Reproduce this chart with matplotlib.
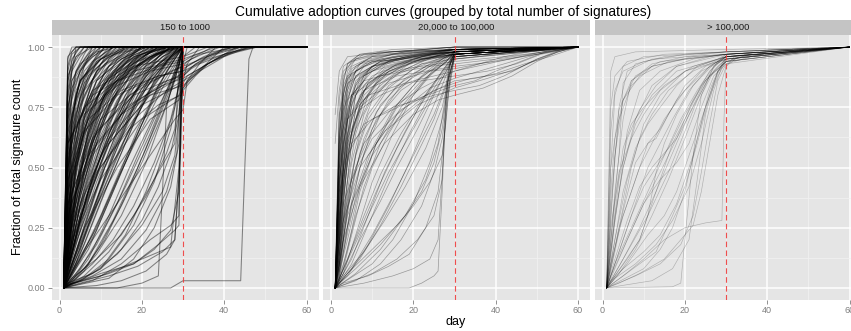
import matplotlib
matplotlib.use("Agg")
import matplotlib.pyplot as plt
import numpy as np

plt.rcParams['font.family'] = ['Liberation Sans', 'DejaVu Sans']

TITLE = "Cumulative adoption curves (grouped by total number of signatures)"
GROUPS = ["150 to 1000", "20,000 to 100,000", "> 100,000"]
X_TICKS = [0, 20, 40, 60]
Y_TICKS = [0.0, 0.25, 0.5, 0.75, 1.0]
Y_TICK_LABELS = ["0.00", "0.25", "0.50", "0.75", "1.00"]
CUTOFF_DAY = 30
LAST_DAY = 60

# each curve: flat list of (day, fraction) pairs; every curve finishes at (LAST_DAY, 1)
small = [
    [1,0, 2,.9, 3,.97, 5,1],
    [1,0, 2,.82, 3,.92, 6,1],
    [1,0, 2,.75, 4,.9, 7,.97, 9,1],
    [1,0, 2,.68, 3,.83, 6,.93, 11,1],
    [1,0, 2,.6, 4,.82, 8,.94, 13,1],
    [1,0, 2,.55, 3,.72, 6,.88, 10,.95, 15,1],
    [1,0, 2,.5, 4,.74, 7,.88, 12,.96, 18,1],
    [1,0, 2,.42, 3,.6, 5,.76, 9,.9, 14,.97, 19,1],
    [1,0, 2,.38, 5,.7, 9,.86, 15,.95, 21,1],
    [1,0, 2,.33, 4,.58, 7,.77, 12,.9, 17,.96, 23,1],
    [1,0, 2,.28, 4,.5, 8,.74, 13,.88, 20,.97, 25,1],
    [1,0, 3,.4, 6,.66, 10,.83, 16,.94, 24,1],
    [1,0, 3,.35, 7,.65, 12,.84, 18,.95, 26,1],
    [1,0, 2,.22, 5,.48, 9,.7, 14,.85, 21,.95, 28,1],
    [1,0, 3,.25, 6,.47, 11,.72, 17,.88, 24,.97, 30,1],
    [1,0, 2,.18, 4,.36, 8,.6, 13,.79, 19,.92, 27,1],
    [1,0, 3,.2, 7,.45, 12,.68, 18,.86, 25,.96, 30,1],
    [1,0, 4,.18, 9,.44, 14,.65, 20,.83, 26,.95, 30,1],
    [1,0, 2,.12, 5,.3, 10,.55, 16,.76, 22,.9, 29,1],
    [1,0, 3,.1, 8,.3, 14,.55, 20,.77, 26,.93, 30,1],
    [1,0, 5,.12, 10,.3, 15,.5, 20,.68, 25,.85, 29,.96, 30,1],
    [1,0, 4,.06, 9,.18, 14,.35, 19,.55, 24,.74, 28,.9, 30,1],
    [1,0, 6,.05, 12,.15, 18,.3, 24,.48, 28,.6, 29,.92, 30,1],
    [1,0, 8,.03, 15,.1, 22,.2, 27,.26, 29,.3, 29.5,.88, 30,1],
    [1,0, 3,.02, 10,.05, 20,.12, 27,.17, 29,.5, 30,.93, 31,1],
    [1,0, 2,.95, 3,1],
    [1,0, 2,.88, 4,.96, 8,1],
    [1,0, 2,.72, 3,.86, 5,.93, 9,.98, 14,1],
    [1,0, 2,.64, 5,.86, 10,.95, 16,1],
    [1,0, 2,.48, 3,.66, 6,.85, 11,.95, 17,1],
    [1,0, 2,.4, 4,.66, 8,.85, 13,.94, 20,1],
    [1,0, 3,.55, 5,.75, 9,.9, 16,.98, 22,1],
    [1,0, 3,.48, 7,.78, 12,.92, 20,1],
    [1,0, 2,.25, 3,.42, 6,.68, 11,.86, 18,.96, 26,1],
    [1,0, 2,.15, 4,.4, 7,.63, 11,.8, 17,.92, 24,1],
    [1,0, 3,.3, 5,.52, 8,.7, 12,.83, 19,.94, 28,1],
    [1,0, 4,.3, 8,.58, 12,.76, 17,.9, 23,.97, 29,1],
    [1,0, 5,.35, 10,.62, 15,.8, 21,.92, 27,1],
    [1,0, 2,.08, 6,.35, 11,.6, 16,.8, 22,.93, 27,1],
    [1,0, 3,.15, 6,.32, 10,.52, 15,.72, 21,.88, 28,.97, 30,1],
    [1,0, 4,.1, 9,.25, 14,.45, 19,.66, 24,.84, 28,.95, 30,1],
    [1,0, 2,.05, 5,.16, 10,.38, 16,.62, 22,.82, 27,.94, 30,1],
    [1,0, 7,.1, 13,.28, 19,.5, 24,.7, 28,.87, 30,1],
    [1,0, 10,.08, 16,.22, 21,.4, 25,.58, 28,.75, 29,.85, 30,1],
    [1,0, 2,.02, 8,.06, 14,.14, 20,.26, 25,.4, 28,.55, 29.5,.8, 30,.96, 33,1],
    [1,0, 4,.02, 10,.06, 18,.1, 24,.18, 28,.24, 29,.26, 29.5,.7, 30,.86, 31,.93, 34,1],
    [1,0, 27,0, 30,.03, 44,.03, 45,.5, 46,.95, 47,1],
    [1,0, 14,0, 20,.02, 24,.05, 25,.4, 26,.75, 29,.95, 30,1],
    [1,0, 3,.3, 8,.55, 15,.72, 22,.8, 30,.84, 34,.9, 40,.96, 46,1],
    [1,0, 2,.4, 6,.65, 14,.8, 24,.88, 30,.9, 36,.95, 42,.98, 48,1],
    [1,0, 4,.4, 10,.7, 20,.84, 30,.92, 36,.96, 42,1],
    [1,0, 2,.6, 8,.8, 18,.9, 30,.95, 38,1],
    [1,0, 5,.3, 12,.6, 22,.8, 30,.88, 33,.93, 38,.97, 44,1],
    [1,0, 3,.2, 10,.45, 20,.7, 29,.8, 31,.86, 35,.92, 40,1],
    [1,0, 6,.15, 14,.35, 22,.55, 28,.7, 30,.74, 31,.86, 34,.93, 38,1],
    [1,0, 2,.78, 3,.9, 4,.96, 6,1],
    [1,0, 2,.66, 3,.8, 5,.9, 8,.96, 12,1],
    [1,0, 2,.58, 3,.74, 5,.86, 9,.94, 16,1],
    [1,0, 2,.52, 4,.76, 6,.87, 10,.95, 14,1],
    [1,0, 2,.46, 3,.62, 5,.79, 8,.9, 13,.97, 17,1],
    [1,0, 2,.36, 3,.52, 5,.7, 9,.86, 15,.95, 21,1],
    [1,0, 2,.3, 3,.45, 6,.7, 10,.85, 16,.95, 22,1],
    [1,0, 2,.26, 4,.52, 7,.72, 12,.88, 18,.96, 25,1],
    [1,0, 2,.2, 4,.42, 7,.64, 11,.8, 17,.93, 23,1],
    [1,0, 3,.28, 6,.56, 10,.76, 15,.89, 21,.97, 26,1],
    [1,0, 2,.14, 5,.38, 9,.62, 14,.81, 20,.93, 26,1],
    [1,0, 3,.16, 7,.4, 12,.64, 17,.81, 23,.93, 28,1],
    [1,0, 4,.22, 8,.46, 13,.68, 19,.86, 25,.96, 29,1],
    [1,0, 2,.1, 6,.28, 11,.5, 17,.72, 23,.88, 28,.97, 30,1],
    [1,0, 5,.2, 11,.45, 17,.66, 23,.84, 28,.96, 30,1],
    [1,0, 3,.06, 8,.22, 14,.45, 20,.66, 25,.83, 29,.95, 30,1],
    [1,0, 2,.92, 3,.98, 4,1],
    [1,0, 2,.85, 3,.95, 5,1],
    [1,0, 2,.7, 4,.88, 7,.96, 10,1],
    [1,0, 3,.7, 5,.86, 9,.95, 13,1],
    [1,0, 3,.62, 6,.82, 11,.93, 19,1],
    [1,0, 2,.34, 5,.62, 10,.82, 16,.93, 23,1],
    [1,0, 4,.5, 9,.76, 15,.9, 22,.98, 27,1],
    [1,0, 2,.44, 6,.72, 12,.87, 19,.95, 25,1],
    [1,0, 3,.45, 6,.64, 11,.8, 18,.92, 28,1],
    [1,0, 2,.04, 4,.14, 8,.32, 13,.56, 19,.78, 25,.92, 29,1],
    [1,0, 6,.08, 11,.2, 16,.38, 21,.58, 26,.8, 29,.93, 30,1],
    [1,0, 3,.04, 9,.12, 15,.22, 21,.38, 26,.56, 28,.66, 29,.8, 30,1],
    [1,0, 12,.04, 18,.12, 23,.25, 27,.42, 29,.6, 30,1],
    [1,0, 2,.5, 3,.67, 4,.78, 7,.91, 11,1],
    [1,0, 2,.24, 3,.38, 5,.58, 8,.76, 13,.9, 20,1],
    [1,0, 2,.18, 3,.3, 6,.55, 10,.75, 15,.88, 22,.96, 29,1],
    [1,0, 4,.14, 7,.3, 11,.5, 16,.7, 22,.87, 27,.96, 30,1],
    [1,0, 2,.07, 4,.2, 8,.42, 13,.64, 18,.8, 24,.93, 30,1],
    [1,0, 3,.03, 7,.12, 12,.3, 17,.5, 22,.68, 26,.82, 29,.92, 30,1],
    [1,0, 2,.7, 3,.9, 4,1],
    [1,0, 2,.58, 3,.8, 4,.9, 6,.97, 7,1],
    [1,0, 2,.5, 3,.7, 5,.88, 8,1],
    [1,0, 2,.44, 3,.68, 4,.8, 6,.92, 9,1],
    [1,0, 2,.38, 3,.6, 5,.8, 7,.9, 10,1],
    [1,0, 2,.32, 4,.64, 6,.82, 9,.94, 12,1],
    [1,0, 2,.27, 3,.46, 5,.68, 8,.86, 11,.96, 13,1],
    [1,0, 2,.24, 4,.52, 6,.7, 9,.86, 12,.95, 15,1],
    [1,0, 2,.2, 3,.36, 5,.58, 8,.78, 11,.9, 16,1],
    [1,0, 2,.16, 4,.4, 7,.66, 10,.83, 14,.95, 17,1],
    [1,0, 2,.13, 3,.26, 6,.55, 9,.74, 13,.89, 18,1],
    [1,0, 2,.11, 4,.32, 7,.56, 11,.78, 15,.91, 19,1],
    [1,0, 3,.22, 6,.5, 10,.75, 14,.9, 18,.97, 20,1],
    [1,0, 2,.09, 5,.34, 9,.6, 13,.8, 17,.93, 21,1],
    [1,0, 3,.18, 6,.42, 10,.66, 15,.86, 19,.96, 22,1],
    [1,0, 2,.07, 5,.28, 9,.52, 14,.76, 19,.92, 23,1],
    [1,0, 4,.2, 8,.48, 12,.7, 17,.88, 21,.97, 24,1],
    [1,0, 3,.12, 7,.36, 12,.62, 17,.82, 22,.95, 25,1],
    [1,0, 2,.05, 6,.26, 11,.52, 16,.74, 21,.9, 26,1],
    [1,0, 5,.2, 10,.46, 15,.68, 20,.86, 24,.96, 27,1],
    [1,0, 3,.08, 8,.3, 13,.54, 18,.75, 23,.9, 28,1],
    [1,0, 4,.12, 9,.36, 14,.6, 19,.8, 24,.93, 28,1],
    [1,0, 2,.03, 6,.18, 12,.44, 18,.68, 23,.86, 27,.96, 29,1],
    [1,0, 5,.14, 10,.36, 16,.6, 21,.8, 26,.94, 29,1],
    [1,0, 3,.05, 9,.24, 15,.48, 21,.72, 26,.9, 30,1],
    [1,0, 7,.16, 13,.4, 19,.64, 24,.84, 28,.95, 30,1],
    [1,0, 2,.02, 5,.08, 10,.22, 16,.42, 22,.64, 27,.85, 30,1],
    [1,0, 4,.04, 9,.14, 15,.3, 21,.52, 26,.76, 29,.92, 30,1],
    [1,0, 6,.04, 12,.12, 18,.26, 23,.44, 27,.66, 29,.84, 30,1],
    [1,0, 2,.01, 8,.05, 15,.12, 21,.24, 26,.4, 28.5,.56, 29.5,.85, 30,1],
    [1,0, 5,.02, 12,.05, 19,.09, 25,.15, 28,.2, 29.5,.6, 30,1],
    [1,0, 2,.96, 4,1],
    [1,0, 2,.86, 3,.94, 4,.98, 5,1],
    [1,0, 2,.8, 3,.9, 5,.96, 7,1],
    [1,0, 2,.74, 3,.86, 6,.95, 8,1],
    [1,0, 2,.64, 3,.78, 5,.9, 7,.95, 10,1],
    [1,0, 2,.56, 4,.8, 6,.9, 9,.96, 11,1],
    [1,0, 2,.48, 4,.72, 7,.88, 10,.95, 13,1],
    [1,0, 2,.41, 3,.57, 6,.8, 10,.93, 14,1],
    [1,0, 3,.5, 5,.7, 8,.86, 12,.95, 16,1],
    [1,0, 2,.31, 4,.55, 8,.8, 12,.92, 18,1],
    [1,0, 3,.38, 6,.63, 10,.82, 15,.94, 20,1],
    [1,0, 2,.23, 5,.52, 9,.75, 14,.9, 19,.97, 22,1],
    [1,0, 3,.32, 7,.6, 12,.8, 17,.92, 24,1],
    [1,0, 4,.36, 8,.62, 13,.82, 19,.94, 26,1],
    [1,0, 2,.17, 5,.44, 10,.7, 16,.87, 22,.96, 27,1],
    [1,0, 3,.26, 8,.56, 14,.78, 20,.91, 25,.97, 29,1],
    [1,0, 5,.28, 10,.54, 16,.76, 22,.9, 27,.97, 30,1],
    [1,0, 2,.1, 3,.2, 5,.4, 8,.6, 12,.78, 17,.9, 23,.97, 28,1],
    [1,0, 2,.06, 3,.14, 6,.38, 10,.6, 15,.8, 20,.92, 26,1],
    [1,0, 2,.03, 4,.1, 7,.26, 11,.46, 16,.66, 21,.83, 26,.94, 30,1],
    [1,0, 3,.02, 6,.07, 10,.18, 15,.34, 20,.52, 25,.72, 28,.86, 30,1],
    [1,0, 2,.01, 4,.04, 8,.1, 13,.2, 18,.34, 23,.52, 27,.7, 29,.84, 30,1],
    [1,0, 5,.03, 10,.08, 15,.16, 20,.28, 24,.42, 27,.56, 29,.72, 30,1],
    [1,0, 2,.015, 6,.03, 12,.06, 18,.1, 23,.16, 27,.24, 29,.4, 30,1],
    [1,0, 9,.01, 15,.03, 21,.07, 26,.14, 28,.2, 29,.45, 30,1],
    [1,0, 2,.5, 6,.72, 14,.84, 22,.9, 30,.93, 32,.95, 36,.98, 39,1],
    [1,0, 3,.36, 9,.6, 17,.76, 25,.84, 30,.87, 33,.9, 37,.94, 41,.97, 45,1],
    [1,0, 4,.25, 10,.5, 18,.7, 26,.82, 30,.86, 32,.88, 35,.92, 43,1],
    [1,0, 2,.3, 7,.55, 16,.74, 25,.85, 30,.89, 34,.94, 37,.97, 41,1],
    [1,0, 6,.25, 14,.5, 22,.7, 29,.78, 30,.82, 33,.88, 36,.93, 40,.97, 47,1],
    [1,0, 2,.45, 7,.7, 15,.82, 24,.88, 30,.9, 31,.92, 33,.94, 35,.96, 38,.98, 42,1],
    [1,0, 3,.4, 9,.65, 18,.8, 26,.86, 30,.88, 32,.91, 34,.93, 37,.95, 40,.97, 44,1],
    [1,0, 2,.55, 6,.75, 14,.86, 24,.92, 30,.94, 32,.96, 35,.98, 37,1],
    [1,0, 4,.3, 11,.58, 20,.76, 28,.83, 30,.85, 31,.88, 34,.91, 38,.95, 42,.98, 46,1],
    [1,0, 2,.6, 8,.82, 18,.92, 30,.96, 33,.98, 36,1],
    [1,0, 5,.35, 12,.62, 21,.8, 29,.88, 30,.91, 34,.95, 39,.98, 44,1],
    [1,0, 3,.25, 9,.48, 17,.66, 24,.76, 29.5,.8, 30,.83, 32,.87, 36,.93, 41,.97, 48,1],
    [1,0, 2,.35, 8,.62, 17,.8, 27,.9, 30,.92, 31,.94, 34,.97, 43,1],
]

medium = [
    [1,0, 2,.45, 3,.75, 4,.86, 6,.92, 10,.96, 20,.985, 30,1],
    [1,0, 2,.6, 3,.82, 5,.91, 9,.95, 18,.98, 30,.99],
    [1,0, 2,.35, 3,.62, 4,.78, 6,.88, 12,.94, 22,.97, 30,.98],
    [1,0, 2,.3, 4,.7, 6,.85, 10,.92, 20,.96, 30,.98],
    [1,0, 2,.5, 3,.78, 5,.9, 8,.94, 15,.97, 30,.99],
    [1,0, 2,.2, 3,.48, 5,.76, 7,.87, 12,.93, 20,.96, 30,.985],
    [1,0, 2,.15, 4,.55, 6,.74, 9,.85, 15,.92, 24,.96, 30,.98],
    [1,0, 2,.1, 3,.3, 5,.6, 8,.78, 12,.88, 20,.95, 30,.99],
    [1,0, 2,.25, 3,.5, 4,.64, 7,.8, 13,.9, 22,.96, 30,1],
    [1,0, 3,.4, 5,.65, 8,.8, 14,.9, 22,.95, 30,.97],
    [1,0, 2,.4, 3,.7, 4,.84, 7,.93, 15,.97, 30,.99],
    [1,0, 2,.55, 3,.74, 6,.88, 12,.94, 30,.98],
    [1,0, 2,.7, 3,.88, 5,.94, 12,.97, 30,.99],
    [1,0, 2,.08, 4,.35, 6,.55, 9,.7, 14,.83, 20,.91, 26,.95, 30,.98],
    [1,0, 2,.05, 3,.2, 5,.42, 8,.62, 12,.76, 18,.87, 25,.94, 30,.97],
    [1,0, 3,.15, 6,.38, 10,.58, 15,.74, 21,.86, 27,.94, 30,.98],
    [1,0, 3,.1, 6,.3, 10,.5, 14,.64, 19,.78, 24,.88, 28,.94, 30,.98],
    [1,0, 4,.12, 8,.3, 12,.47, 17,.64, 22,.78, 27,.9, 30,.97],
    [1,0, 2,.04, 6,.2, 11,.4, 16,.58, 21,.74, 26,.87, 29,.94, 30,.97],
    [1,0, 5,.08, 10,.22, 15,.38, 20,.55, 25,.72, 28,.85, 30,.96],
    [1,0, 3,.05, 8,.15, 13,.28, 18,.42, 23,.58, 27,.75, 29,.9, 30,.97],
    [1,0, 6,.06, 12,.16, 18,.3, 23,.45, 26,.6, 28,.82, 29,.93, 30,.98],
    [1,0, 4,.02, 10,.06, 16,.12, 21,.2, 25,.3, 27,.45, 28,.85, 29,.95, 30,.99],
    [1,0, 8,.02, 15,.05, 20,.08, 24,.12, 26,.2, 27.5,.6, 28.5,.9, 30,.98],
    [1,0, 19,0, 22,.02, 25,.05, 26,.07, 27,.4, 28,.8, 29,.94, 30,.98],
    [1,0, 3,.02, 9,.05, 14,.09, 19,.14, 23,.25, 26,.4, 28,.7, 29,.9, 30,.97],
    [1,0, 2,.3, 4,.55, 8,.68, 15,.75, 25,.8, 30,.82, 36,.84, 42,.88, 50,.95, 56,.99],
    [1,0, 3,.2, 7,.42, 13,.6, 20,.72, 26,.78, 30,.8, 37,.83, 44,.88, 50,.94, 55,.98],
    [1,0, 2,.4, 5,.6, 10,.7, 20,.78, 30,.84, 35,.86, 40,.9, 46,.94, 52,.98],
    [1,0, 2,.5, 4,.7, 9,.8, 18,.85, 30,.88, 38,.9, 45,.93, 51,.97],
    [1,0, 4,.3, 9,.55, 16,.72, 24,.83, 30,.87, 36,.9, 44,.94, 50,.97, 56,.99],
    [1,0, 2,.6, 5,.8, 12,.88, 24,.92, 30,.93, 40,.95, 48,.97, 55,.99],
    [1,0, 3,.5, 7,.75, 14,.85, 24,.9, 30,.91, 36,.93, 42,.96, 48,.98],
    [1,0, 2,.2, 5,.45, 10,.62, 17,.74, 25,.82, 30,.85, 34,.87, 38,.88, 44,.9, 50,.95, 55,.98],
    [1,0, 2,.65, 4,.85, 10,.92, 20,.95, 30,.96, 45,.98, 55,.99],
    [1,0, 3,.35, 8,.6, 15,.75, 22,.83, 30,.9, 36,.93, 42,.95, 50,.97],
    [1,0, 5,.35, 10,.55, 16,.7, 23,.8, 30,.86, 35,.87, 40,.89, 47,.93, 53,.96],
    [1,0, 2,.72, 4,.88, 10,.94, 30,.97, 50,.99],
    [1,0, 2,.28, 4,.6, 8,.78, 14,.87, 22,.93, 30,.95, 40,.97, 50,.985],
    [1,.72, 2,.9, 4,.96, 15,.98, 30,.99],
    [1,.6, 2,.82, 3,.92, 7,.97, 30,1],
    [1,0, 2,.55, 3,.85, 4,.93, 7,.97, 15,.99, 30,1],
    [1,0, 2,.38, 3,.68, 4,.82, 5,.88, 9,.94, 18,.97, 30,.99],
    [1,0, 2,.28, 3,.56, 4,.74, 6,.86, 11,.93, 21,.97, 30,.99],
    [1,0, 2,.18, 3,.4, 4,.6, 6,.8, 9,.89, 16,.95, 30,.99],
    [1,0, 2,.12, 3,.3, 5,.6, 7,.74, 11,.85, 18,.93, 30,.98],
    [1,0, 2,.22, 3,.46, 5,.7, 9,.85, 16,.93, 30,.97],
    [1,0, 2,.62, 3,.8, 4,.87, 8,.93, 16,.96, 30,.98],
    [1,0, 2,.78, 3,.9, 6,.95, 14,.98, 30,1],
    [1,0, 2,.42, 3,.64, 5,.8, 10,.9, 20,.95, 30,.97],
    [1,0, 2,.32, 3,.56, 5,.72, 8,.82, 13,.89, 21,.94, 30,.97],
    [1,0, 2,.06, 4,.25, 7,.5, 10,.66, 14,.78, 20,.88, 27,.95, 30,.98],
    [1,0, 2,.1, 4,.32, 7,.56, 11,.73, 16,.84, 23,.92, 30,.97],
    [1,0, 3,.08, 5,.22, 8,.42, 12,.6, 17,.75, 23,.87, 28,.94, 30,.98],
    [1,0, 3,.25, 6,.5, 11,.7, 17,.82, 24,.9, 30,.95],
    [1,0, 4,.2, 7,.42, 11,.6, 16,.75, 22,.86, 28,.94, 30,.97],
    [1,0, 2,.03, 5,.12, 9,.3, 13,.48, 18,.65, 23,.8, 27,.9, 30,.97],
    [1,0, 5,.15, 9,.3, 14,.48, 19,.63, 24,.78, 28,.9, 30,.96],
    [1,0, 7,.12, 12,.26, 17,.42, 21,.56, 25,.7, 28,.84, 30,.95],
    [1,0, 3,.06, 7,.2, 12,.36, 16,.5, 21,.66, 25,.8, 28,.9, 30,.97],
    [1,0, 10,.1, 15,.2, 20,.35, 24,.52, 27,.7, 29,.88, 30,.97],
    [1,0, 2,.02, 6,.08, 12,.18, 18,.3, 22,.4, 25,.52, 27,.66, 28.5,.86, 30,.97],
    [1,0, 4,.06, 10,.16, 16,.26, 20,.34, 24,.44, 27,.55, 28.5,.8, 30,.96],
    [1,0, 2,.14, 3,.36, 4,.52, 6,.66, 10,.8, 17,.9, 25,.96, 30,.99],
    [1,0, 2,.2, 3,.52, 4,.7, 5,.79, 8,.88, 14,.94, 30,.99],
    [1,0, 2,.48, 3,.72, 4,.82, 6,.9, 12,.95, 30,.99],
    [1,0, 2,.24, 3,.44, 4,.58, 7,.76, 12,.87, 20,.94, 30,.98],
    [1,0, 2,.5, 3,.8, 4,.9, 6,.95, 12,.98, 30,.99],
    [1,0, 2,.4, 3,.66, 4,.8, 6,.9, 10,.94, 20,.97, 30,.98],
    [1,0, 2,.3, 3,.6, 4,.76, 5,.85, 8,.92, 15,.96, 30,.99],
    [1,0, 2,.22, 3,.5, 4,.68, 5,.8, 7,.88, 12,.94, 22,.97, 30,.99],
    [1,0, 2,.16, 3,.42, 4,.62, 6,.8, 9,.9, 15,.95, 30,.98],
    [1,0, 2,.12, 3,.34, 4,.54, 6,.74, 8,.84, 13,.92, 22,.96, 30,.98],
    [1,0, 2,.09, 3,.26, 4,.44, 6,.64, 9,.8, 14,.9, 22,.95, 30,.98],
    [1,0, 2,.07, 3,.2, 5,.46, 7,.64, 10,.78, 15,.88, 23,.95, 30,.98],
    [1,0, 2,.6, 3,.86, 4,.93, 8,.97, 30,1],
    [1,0, 2,.66, 3,.84, 5,.92, 10,.96, 30,.99],
    [1,0, 2,.34, 3,.58, 4,.72, 6,.84, 10,.92, 18,.96, 30,.98],
    [1,0, 2,.26, 3,.52, 5,.76, 8,.88, 14,.94, 30,.98],
    [1,0, 2,.19, 3,.38, 5,.64, 8,.82, 13,.91, 22,.96, 30,.99],
    [1,0, 2,.14, 3,.28, 5,.52, 8,.72, 12,.85, 19,.93, 30,.97],
    [1,0, 2,.04, 3,.14, 5,.36, 8,.56, 12,.72, 17,.84, 24,.92, 30,.96],
    [1,0, 2,.03, 4,.16, 7,.4, 11,.6, 16,.76, 22,.88, 27,.95, 30,.98],
    [1,0, 3,.06, 6,.22, 10,.44, 15,.64, 20,.8, 25,.91, 30,.97],
    [1,0, 2,.02, 5,.1, 9,.26, 14,.46, 19,.64, 24,.8, 28,.91, 30,.96],
    [1,0, 4,.05, 9,.18, 14,.34, 19,.52, 23,.68, 27,.84, 29,.93, 30,.97],
    [1,0, 6,.03, 12,.1, 17,.2, 22,.34, 25,.48, 27,.62, 28.5,.82, 30,.96],
    [1,0, 2,.36, 4,.62, 7,.74, 12,.8, 20,.86, 30,.9, 38,.93, 46,.96, 54,.99],
    [1,0, 2,.45, 4,.7, 8,.82, 16,.88, 30,.92, 40,.94, 50,.97, 56,.99],
    [1,0, 3,.28, 7,.5, 13,.65, 21,.76, 30,.83, 38,.87, 45,.91, 52,.96, 57,.99],
    [1,0, 2,.55, 4,.78, 8,.86, 18,.91, 30,.94, 42,.96, 52,.98],
    [1,0, 2,.1, 3,.24, 4,.38, 6,.56, 9,.72, 14,.84, 22,.93, 30,.97],
    [1,0, 2,.44, 3,.6, 4,.7, 6,.8, 10,.88, 18,.94, 30,.97],
]

large = [
    [1,0, 2,.9, 3,.96, 8,.98, 30,.99],
    [1,0, 2,.5, 3,.8, 5,.92, 10,.96, 30,.98],
    [1,0, 2,.3, 4,.75, 6,.9, 12,.95, 30,.97],
    [1,0, 2,.2, 4,.55, 5,.85, 8,.93, 15,.96, 30,.98],
    [1,0, 3,.4, 5,.7, 7,.86, 12,.93, 20,.96, 30,.98],
    [1,0, 2,.15, 4,.4, 6,.65, 9,.82, 14,.9, 22,.95, 30,.97],
    [1,0, 3,.2, 6,.45, 9,.62, 12,.72, 16,.82, 22,.9, 30,.96],
    [1,0, 2,.1, 5,.3, 9,.5, 12,.6, 15,.7, 20,.82, 26,.92, 30,.96],
    [1,0, 4,.25, 8,.45, 11,.6, 13,.62, 16,.72, 20,.84, 25,.92, 30,.95],
    [1,0, 3,.1, 7,.25, 11,.4, 15,.55, 19,.7, 23,.82, 27,.92, 30,.96],
    [1,0, 5,.12, 9,.25, 13,.4, 17,.56, 21,.72, 25,.86, 28,.94, 30,.97],
    [1,0, 2,.05, 6,.2, 10,.35, 14,.48, 18,.62, 22,.78, 26,.9, 30,.96],
    [1,0, 4,.06, 8,.16, 12,.3, 16,.45, 20,.62, 24,.8, 27,.9, 30,.95],
    [1,0, 6,.1, 11,.22, 15,.3, 18,.4, 21,.55, 24,.7, 27,.85, 29,.93, 30,.96],
    [1,0, 3,.04, 8,.1, 13,.18, 17,.28, 21,.42, 24,.6, 27,.82, 29,.92, 30,.95],
    [1,0, 17,.005, 19,.02, 20,.2, 22,.55, 24,.8, 27,.92, 30,.96],
    [1,0, 12,.03, 17,.08, 21,.2, 23,.45, 25,.72, 28,.9, 30,.95],
    [1,0, 5,.05, 10,.12, 15,.2, 20,.25, 25,.27, 29,.28, 29.5,.7, 30,.92, 32,.96, 40,.99],
    [1,0, 2,.65, 3,.82, 5,.9, 10,.94, 20,.97, 30,.98],
    [1,0, 2,.4, 3,.62, 5,.78, 9,.88, 16,.94, 30,.97],
    [1,0, 3,.3, 5,.5, 8,.68, 12,.8, 18,.9, 30,.96],
    [1,0, 2,.08, 4,.25, 7,.5, 10,.68, 14,.8, 20,.9, 28,.95, 30,.97],
    [1,0, 3,.15, 5,.32, 8,.52, 11,.6, 14,.66, 18,.78, 24,.9, 30,.95],
    [1,0, 4,.15, 7,.3, 10,.42, 13,.5, 16,.58, 20,.72, 25,.86, 30,.94, 36,.97, 45,.99],
    [1,0, 6,.2, 10,.35, 14,.45, 18,.52, 21,.6, 24,.75, 27,.88, 30,.93, 38,.97],
    [1,0, 2,.03, 5,.08, 10,.15, 14,.22, 18,.35, 22,.55, 25,.75, 28,.88, 30,.94],
    [1,0, 8,.05, 14,.1, 19,.18, 22,.3, 24,.48, 26,.68, 28,.86, 30,.93],
    [1,0, 3,.12, 6,.28, 9,.42, 12,.5, 15,.56, 18,.62, 22,.75, 26,.88, 30,.94],
    [1,0, 2,.75, 3,.88, 6,.94, 15,.97, 30,.98],
    [1,0, 2,.35, 3,.55, 4,.7, 7,.84, 12,.92, 22,.96, 30,.97],
    [1,0, 4,.45, 6,.62, 9,.74, 13,.84, 18,.92, 26,.96, 30,.97],
    [1,0, 5,.4, 8,.58, 11,.68, 14,.75, 18,.84, 23,.92, 30,.96],
    [1,0, 7,.3, 11,.5, 14,.6, 17,.7, 21,.82, 26,.92, 30,.96],
    [1,0, 3,.05, 6,.12, 9,.2, 11,.3, 13,.48, 15,.6, 18,.72, 22,.84, 27,.93, 30,.96],
    [1,0, 10,.08, 14,.16, 17,.25, 20,.4, 23,.62, 26,.82, 28,.9, 30,.94],
    [1,0, 2,.12, 3,.28, 5,.5, 8,.7, 12,.84, 18,.92, 30,.97],
    [1,0, 2,.25, 4,.48, 7,.62, 10,.72, 14,.82, 20,.9, 30,.95],
    [1,0, 6,.15, 11,.3, 16,.48, 20,.65, 23,.78, 26,.88, 30,.94, 34,.96],
    [1,0, 4,.02, 9,.06, 15,.12, 19,.2, 22,.26, 24,.4, 26,.6, 28,.8, 30,.92, 33,.96],
    [1,0, 2,.5, 4,.74, 7,.86, 12,.92, 20,.95, 30,.97],
    [1,0, 3,.55, 5,.78, 8,.88, 14,.94, 30,.97],
    [1,0, 2,.18, 3,.35, 5,.58, 7,.68, 10,.75, 15,.84, 22,.92, 30,.96],
    [1,0, 9,.2, 12,.35, 15,.5, 17,.6, 20,.7, 24,.84, 28,.92, 30,.95],
    [1,0, 13,.15, 17,.3, 20,.42, 23,.6, 26,.8, 28,.9, 30,.94],
]

# line width / opacity per facet: the small-petition facet is packed much tighter
curve_lw = [0.75, 0.5, 0.45]
curve_alpha = [0.45, 0.34, 0.24]

W, H = 851, 331
fig = plt.figure(figsize=(W / 100, H / 100), dpi=100)


def box(x0, y0, x1, y1):
    # pixel box (top-left origin) -> figure fraction
    return [x0 / W, 1 - y1 / H, (x1 - x0) / W, (y1 - y0) / H]


panel_left = [51.5, 323.0, 594.5]
panel_w = 267.2
GREY_TXT = '#7F7F7F'

for i, (name, curves) in enumerate(zip(GROUPS, [small, medium, large])):
    l = panel_left[i]
    ax = fig.add_axes(box(l, 35, l + panel_w, 300))
    ax.set_facecolor('#E5E5E5')
    ax.set_xlim(-1.95, 62.95)
    ax.set_ylim(-0.05, 1.05)
    ax.set_xticks(X_TICKS)
    ax.set_xticks([10, 30, 50], minor=True)
    ax.set_yticks(Y_TICKS)
    ax.set_yticks([0.125, 0.375, 0.625, 0.875], minor=True)
    ax.grid(which='major', color='white', lw=1.1)
    ax.grid(which='minor', color='#F2F2F2', lw=0.5)
    ax.set_axisbelow(True)
    for s in ax.spines.values():
        s.set_visible(False)

    for c in curves:
        pts = np.array(c + [LAST_DAY, 1.0], dtype=float).reshape(-1, 2)
        ax.plot(pts[:, 0], pts[:, 1], color='black', lw=curve_lw[i], alpha=curve_alpha[i])
    ax.axvline(CUTOFF_DAY, color='#F03C3C', lw=0.8, ls=(0, (5, 3)), alpha=0.9)

    ax.tick_params(which='major', length=3, width=0.6, color=GREY_TXT,
                   labelcolor=GREY_TXT, labelsize=6.5, pad=1.5)
    ax.tick_params(which='minor', length=0)
    if i == 0:
        ax.set_yticklabels(Y_TICK_LABELS)
    else:
        ax.tick_params(axis='y', which='major', length=0, labelleft=False)

    # facet strip
    sax = fig.add_axes(box(l, 20, l + panel_w, 35))
    sax.set_facecolor('#C4C4C4')
    sax.set_xticks([])
    sax.set_yticks([])
    for s in sax.spines.values():
        s.set_visible(False)
    sax.text(0.5, 0.5, name, ha='center', va='center', fontsize=6.8,
             color='#1A1A1A', transform=sax.transAxes)

fig.text(443 / W, 1 - 12 / H, TITLE, ha='center', va='center', fontsize=9.9)
fig.text(18 / W, 1 - 167 / H, "Fraction of total signature count", rotation=90,
         ha='center', va='center', fontsize=9)
fig.text(456 / W, 1 - 322 / H, "day", ha='center', va='center', fontsize=9)

fig.savefig("out.png", dpi=100)
